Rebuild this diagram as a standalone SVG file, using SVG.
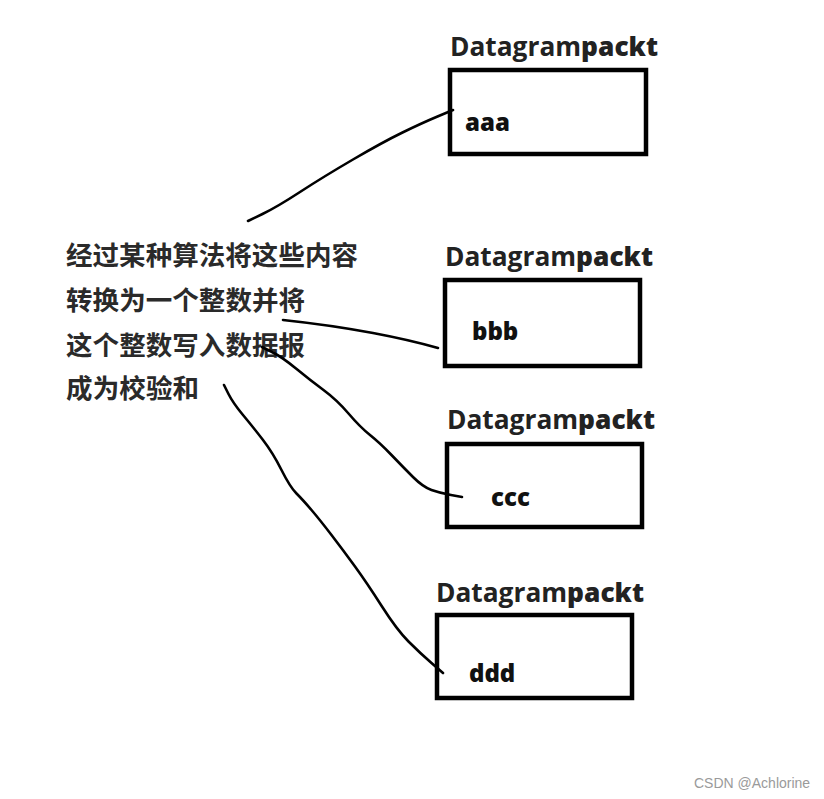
<svg xmlns="http://www.w3.org/2000/svg" width="824" height="799" viewBox="0 0 824 799">
<style>
.box{fill:none;stroke:#000;stroke-width:4.5}
.title{font-family:"Open Sans","Liberation Sans",sans-serif;font-size:27px;font-weight:700;fill:#222}
.title .pk{font-weight:800}
.lbl{font-family:"Open Sans","Liberation Sans",sans-serif;font-size:24px;font-weight:800;fill:#111}
.cn{font-family:"Noto Sans CJK SC",sans-serif;font-size:26.5px;font-weight:700;fill:#2a2a2a}
.wire{fill:none;stroke:#000;stroke-width:2.6;stroke-linecap:round;stroke-linejoin:round}
.wm{font-family:"Liberation Sans",Arial,sans-serif;font-size:14px;fill:#9a9a9a}
</style>
<rect width="824" height="799" fill="#fff"/>
<g id="note">
<text class="cn" x="66" y="265" textLength="292">经过某种算法将这些内容</text>
<text class="cn" x="66" y="310" textLength="239">转换为一个整数并将</text>
<text class="cn" x="66" y="355" textLength="239">这个整数写入数据报</text>
<text class="cn" x="66" y="398" textLength="133">成为校验和</text>
</g>
<g id="packet-aaa">
<text class="title" x="450" y="56" textLength="208" lengthAdjust="spacingAndGlyphs">Datagram<tspan class="pk">packt</tspan></text>
<rect class="box" x="450" y="70" width="196" height="84"/>
<text class="lbl" x="465" y="131">aaa</text>
</g>
<g id="packet-bbb">
<text class="title" x="445" y="266" textLength="208" lengthAdjust="spacingAndGlyphs">Datagram<tspan class="pk">packt</tspan></text>
<rect class="box" x="445" y="280" width="195" height="86"/>
<text class="lbl" x="472" y="340">bbb</text>
</g>
<g id="packet-ccc">
<text class="title" x="447" y="429" textLength="208" lengthAdjust="spacingAndGlyphs">Datagram<tspan class="pk">packt</tspan></text>
<rect class="box" x="447" y="444" width="195" height="83"/>
<text class="lbl" x="491" y="506">ccc</text>
</g>
<g id="packet-ddd">
<text class="title" x="436" y="602" textLength="208" lengthAdjust="spacingAndGlyphs">Datagram<tspan class="pk">packt</tspan></text>
<rect class="box" x="437" y="615" width="195" height="83"/>
<text class="lbl" x="469" y="682">ddd</text>
</g>
<g id="connectors">
<path class="wire" d="M248,221 L262.5,214 Q277,207 300,192 Q323,177 353,159.5 Q383,142 402.5,132.5 Q422,123 437.5,116.5 L453,110"/>
<path class="wire" d="M283,320 Q330,325 373,333 Q410,340 438,348"/>
<path class="wire" d="M262,347 L272,352 Q282,357 296,368.5 Q310,380 323.5,390 Q337,400 348.5,413.5 Q360,427 370,435 Q380,443 391.5,455 Q403,467 413,477 Q423,487 431.5,490 Q440,493 451,495 L462,497"/>
<path class="wire" d="M224,385 L228.5,394 Q233,403 243,415 Q253,427 263,440 Q273,453 281.5,470 Q290,487 296.5,493.5 Q303,500 311.5,510 Q320,520 331.5,535 Q343,550 355,566.5 Q367,583 382,606.5 Q397,630 408.5,641.5 Q420,653 431.5,663 L443,673"/>
</g>
<text class="wm" x="694" y="788">CSDN @Achlorine</text>
</svg>
